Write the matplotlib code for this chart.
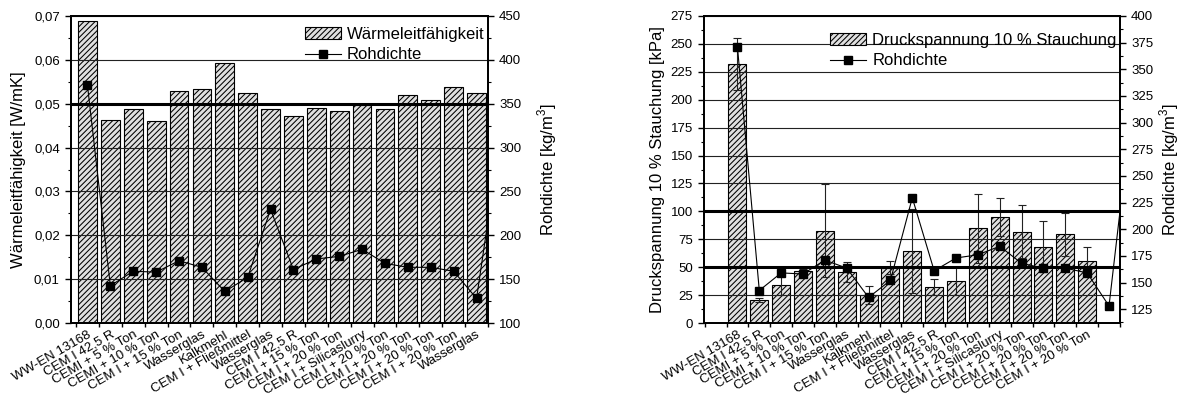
#!/usr/bin/env python3
import numpy as np
import matplotlib
matplotlib.use("Agg")
import matplotlib.pyplot as plt
import matplotlib as mpl
from matplotlib.ticker import FuncFormatter, MultipleLocator, FixedLocator
from matplotlib.patches import Patch
from matplotlib.lines import Line2D

mpl.rcParams['font.family'] = ['Liberation Sans', 'DejaVu Sans']
mpl.rcParams['mathtext.fontset'] = 'custom'
mpl.rcParams['mathtext.rm'] = 'Liberation Sans'
mpl.rcParams['hatch.linewidth'] = 0.75

# category labels
labels_left = ["WW-EN 13168", "CEM I 42,5 R", "CEMI + 5 % Ton", "CEMI + 10 % Ton",
               "CEM I + 15 % Ton", "Wasserglas", "Kalkmehl", "CEM I + Fließmittel",
               "Wasserglas", "CEM I 42,5 R", "CEM I + 15 % Ton", "CEM I + 20 % Ton",
               "CEM I + Silicaslurry", "CEM I + 20 % Ton", "CEM I + 20 % Ton",
               "CEM I + 20 % Ton", "CEM I + 20 % Ton", "Wasserglas"]
labels_right = labels_left[:17]

# Wärmeleitfähigkeit [W/mK]
waermeleit = [0.0689, 0.0464, 0.0487, 0.0461, 0.0530, 0.0533, 0.0593, 0.0524, 0.0487,
              0.0471, 0.0491, 0.0483, 0.0497, 0.0487, 0.0520, 0.0508, 0.0537, 0.0524]

# Druckspannung 10 % Stauchung [kPa] and its error
druck = [232, 20.6, 33.8, 46.6, 82.7, 45.4, 24.8, 49.5, 64.5, 32, 37.9, 84.8, 94.7,
         81.8, 68.4, 79.4, 55.5]
druck_err = [23.5, 2, 9, 2, 41.7, 9, 8, 6, 38, 7, 12.6, 31, 17, 23.5, 23, 19, 13]

# Rohdichte [kg/m3] (last value lies outside the plotted range)
rohdichte = [371, 142.5, 159, 158, 171, 163.5, 136, 152, 229.5, 161, 173, 176, 184,
             168, 163.5, 163.5, 159, 128, 305]

BAR_KW = dict(width=0.82, color='#e0e0e0', edgecolor='black', hatch='//////',
              linewidth=0.8, zorder=1)
TICK_FS = 9.5
LABEL_FS = 12


def style_axis(ax, n_edges_from, n_edges_to, positions, labels):
    ax.set_xticks(np.arange(n_edges_from, n_edges_to + 0.01, 1.0))
    ax.set_xticklabels([])
    ax.set_xticks(positions, labels, minor=True)
    ax.tick_params(axis='x', which='major', direction='out', length=3, width=1)
    ax.tick_params(axis='x', which='minor', length=0, pad=4, labelsize=TICK_FS)
    for t in ax.get_xticklabels(minor=True):
        t.set_rotation(30)
        t.set_ha('right')
        t.set_va('top')
        t.set_rotation_mode('anchor')
    ax.tick_params(axis='y', which='major', direction='out', length=4.5, width=1,
                   labelsize=TICK_FS)
    ax.tick_params(axis='y', which='minor', direction='out', length=2.5, width=0.8)
    for s in ax.spines.values():
        s.set_linewidth(1.3)
    ax.set_axisbelow(False)
    ax.grid(axis='y', which='major', color='#222222', linewidth=0.8)


def style_twin(ax2, label, pad):
    ax2.tick_params(axis='y', which='major', direction='out', length=4.5, width=1,
                    labelsize=TICK_FS)
    ax2.tick_params(axis='y', which='minor', direction='out', length=2.5, width=0.8)
    for s in ax2.spines.values():
        s.set_linewidth(1.3)
    ax2.set_ylabel(label, fontsize=LABEL_FS, labelpad=pad)


def add_legend(ax2, names, y_anchor):
    handles = [Patch(facecolor='#e0e0e0', edgecolor='black', hatch='//////', linewidth=0.8),
               Line2D([], [], color='black', marker='s', linewidth=0.8, markersize=5.5)]
    ax2.legend(handles, names, loc='upper right', bbox_to_anchor=(1.0, y_anchor),
               frameon=False, fontsize=LABEL_FS, handlelength=2.2, handletextpad=0.35,
               borderpad=0.1, labelspacing=0.32, borderaxespad=0.1)


def plot_left(fig):
    ax = fig.add_axes([0.0600, 0.1884, 0.3525, 0.7714])
    x = np.arange(1, len(waermeleit) + 1)
    ax.bar(x, waermeleit, **BAR_KW)
    ax.axhline(0.05, color='black', linewidth=2.2, zorder=3)
    ax.set_xlim(0.28, 18.5)
    ax.set_ylim(0, 0.07)
    ax.yaxis.set_major_locator(MultipleLocator(0.01))
    ax.yaxis.set_minor_locator(MultipleLocator(0.005))
    ax.yaxis.set_major_formatter(FuncFormatter(lambda v, p: f"{v:.2f}".replace('.', ',')))
    style_axis(ax, 0.5, 18.5, x, labels_left)
    ax.set_ylabel("Wärmeleitfähigkeit [W/mK]", fontsize=LABEL_FS, labelpad=6)

    ax2 = ax.twinx()
    xr = np.arange(1, len(rohdichte) + 1)
    ax2.plot(xr, rohdichte, '-s', color='black', linewidth=0.8, markersize=5.5)
    ax2.set_ylim(100, 450)
    ax2.yaxis.set_major_locator(MultipleLocator(50))
    ax2.yaxis.set_minor_locator(MultipleLocator(25))
    style_twin(ax2, r"Rohdichte [kg/m$^\mathregular{3}$]", 10)
    add_legend(ax2, ["Wärmeleitfähigkeit", "Rohdichte"], 0.975)


def plot_right(fig):
    ax = fig.add_axes([0.5951, 0.1884, 0.3516, 0.7714])
    x = np.arange(1, len(druck) + 1)
    ax.bar(x, druck, **BAR_KW)
    ax.errorbar(x, druck, yerr=druck_err, fmt='none', ecolor='#222222',
                elinewidth=0.8, capsize=3, capthick=0.8, zorder=2)
    ax.axhline(100, color='black', linewidth=2.2, zorder=3)
    ax.axhline(50, color='black', linewidth=2.2, zorder=3)
    ax.set_xlim(-0.53, 18.5)
    ax.set_ylim(0, 275)
    ax.yaxis.set_major_locator(MultipleLocator(25))
    ax.yaxis.set_minor_locator(MultipleLocator(12.5))
    style_axis(ax, -0.5, 18.5, x, labels_right)
    ax.set_ylabel("Druckspannung 10 % Stauchung [kPa]", fontsize=LABEL_FS, labelpad=4)

    ax2 = ax.twinx()
    xr = np.arange(1, len(rohdichte) + 1)
    ax2.plot(xr, rohdichte, '-s', color='black', linewidth=0.8, markersize=5.5)
    ax2.set_ylim(112, 400)
    ax2.yaxis.set_major_locator(FixedLocator(np.arange(125, 401, 25)))
    ax2.yaxis.set_minor_locator(FixedLocator(np.arange(112.5, 401, 12.5)))
    style_twin(ax2, r"Rohdichte [kg/m$^\mathregular{3}$]", 3)
    add_legend(ax2, ["Druckspannung 10 % Stauchung", "Rohdichte"], 0.955)


def main():
    fig = plt.figure(figsize=(11.83, 3.98), dpi=100)
    plot_left(fig)
    plot_right(fig)
    fig.savefig("out.png", dpi=100)
    plt.close(fig)


if __name__ == "__main__":
    main()
